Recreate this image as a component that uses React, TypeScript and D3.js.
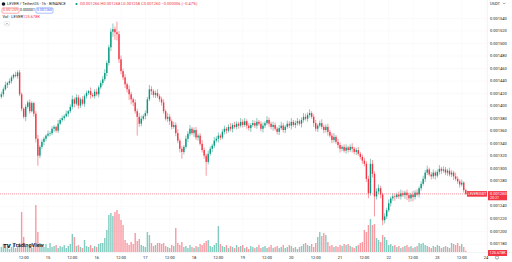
import React from "react";
import * as d3 from "d3";

const W = 512;
const H = 262;

// prices in units of 1e-6 USDT, 1h candles starting Nov 14 01:00 UTC
const OPEN0 = 1415;
const CLOSE = [
  1419,1427,1434,1437,1440,1446,1450,1448,1454,1419,
  1396,1383,1399,1406,1392,1405,1388,1348,1321,1335,
  1343,1348,1353,1356,1357,1364,1367,1361,1372,1378,
  1381,1384,1388,1392,1399,1411,1404,1414,1401,1411,
  1404,1416,1421,1424,1418,1416,1423,1419,1430,1437,
  1443,1453,1469,1494,1519,1523,1518,1515,1475,1456,
  1446,1435,1427,1419,1411,1406,1392,1383,1372,1380,
  1384,1389,1411,1427,1424,1418,1421,1416,1411,1406,
  1392,1380,1383,1376,1367,1370,1357,1345,1332,1327,
  1335,1348,1356,1364,1357,1362,1350,1353,1340,1330,
  1321,1311,1324,1332,1337,1345,1348,1353,1350,1359,
  1364,1361,1367,1364,1370,1367,1372,1369,1375,1370,
  1376,1369,1365,1370,1373,1369,1375,1372,1364,1369,
  1373,1378,1372,1367,1370,1364,1359,1365,1369,1362,
  1367,1372,1369,1375,1370,1373,1376,1372,1378,1383,
  1380,1386,1389,1383,1373,1364,1369,1373,1367,1362,
  1367,1359,1353,1346,1351,1343,1338,1332,1335,1329,
  1334,1330,1335,1332,1327,1330,1324,1319,1313,1308,
  1284,1261,1308,1292,1256,1264,1269,1259,1218,1224,
  1234,1245,1253,1256,1255,1259,1256,1261,1258,1262,
  1258,1253,1259,1255,1262,1259,1269,1276,1284,1294,
  1299,1291,1288,1294,1289,1295,1300,1297,1299,1294,
  1297,1291,1294,1288,1284,1280,1275,1278,1266,1260,
];
const UP_WICK = [
  4,3,5,2,4,3,2,5,3,4, 3,2,4,3,5,3,2,4,6,3, 4,3,2,5,3,4,3,2,6,3,
  4,3,5,2,4,6,3,5,4,3, 5,3,4,2,6,3,4,5,3,4, 5,6,4,4,5,9,4,17,5,6,
  4,5,3,6,4,3,5,4,6,5, 3,4,4,7,5,3,4,6,3,4, 5,3,6,4,3,5,4,6,3,4,
  3,5,4,6,3,4,5,3,4,6, 4,3,5,4,3,6,4,5,3,4, 5,3,4,6,3,5,4,3,6,4,
  5,3,4,3,5,4,6,3,4,5, 3,6,4,3,5,4,3,5,6,4, 3,5,4,6,3,4,5,3,4,6,
  5,4,6,3,4,5,3,4,6,3, 4,5,3,4,6,3,5,4,3,4, 5,3,4,6,3,4,5,3,4,5,
  4,5,8,6,4,5,6,4,3,5, 4,6,3,5,4,3,5,6,4,3, 5,4,3,6,4,5,3,4,5,4,
  6,3,4,5,3,4,6,3,5,4, 3,5,4,3,6,4,3,5,2,2,
];
const DN_WICK = [
  3,4,2,5,3,4,3,2,4,3, 4,3,7,3,4,2,5,6,16,4, 3,5,4,2,4,3,5,3,4,2,
  3,4,2,5,3,4,6,3,5,4, 3,5,4,3,6,2,4,3,5,3, 4,3,5,4,6,8,12,10,6,5,
  4,6,5,9,8,6,4,30,5,4, 3,5,4,3,6,4,5,3,4,5, 4,3,5,6,4,3,5,4,6,11,
  4,3,5,4,3,6,4,5,3,4, 5,22,4,3,5,4,3,6,4,3, 4,5,3,4,6,3,4,5,3,4,
  3,5,4,6,3,4,5,3,4,6, 4,3,5,4,6,3,4,5,3,4, 5,3,4,6,3,5,4,3,6,4,
  3,5,4,3,6,4,5,3,4,5, 4,6,3,5,4,3,5,6,4,3, 5,4,3,6,4,5,3,4,5,4,
  5,8,4,6,32,5,4,6,8,5, 4,3,5,4,6,3,4,5,3,6, 8,6,5,7,4,3,5,4,3,5,
  4,3,5,4,6,3,4,5,3,4, 5,3,4,6,3,4,5,3,4,2,
];
// volume in thousands
const VOLUME = [
  500,700,400,600,300,500,800,400,600,900,
  4000,1500,600,500,700,400,800,4700,2000,900,
  600,500,800,400,900,500,600,700,400,600,
  500,700,400,600,800,1800,1500,600,700,500,
  400,1200,600,500,700,400,600,500,800,900,
  900,1400,2200,3700,3900,3600,4000,4200,3800,3200,
  2700,1200,900,700,1000,800,1900,1100,1300,700,
  600,500,2000,1700,900,600,700,900,900,800,
  900,600,500,400,700,600,2400,900,700,1000,
  500,600,400,700,500,400,600,500,800,700,
  900,1100,1200,600,500,700,900,2600,800,600,
  500,700,400,600,500,400,700,500,600,700,
  400,500,300,600,500,400,500,700,400,500,
  600,400,500,700,400,500,600,400,500,700,
  400,500,700,600,400,500,300,500,600,800,
  900,700,600,800,500,900,1500,2000,1600,1900,
  1700,1000,600,700,500,600,500,700,600,800,
  700,800,600,500,400,600,700,900,1000,2200,
  2000,2700,3300,2700,2800,1400,1200,1000,1700,1500,
  1200,700,800,600,700,500,600,400,500,600,
  700,500,600,400,500,600,900,800,900,700,
  600,500,400,600,500,700,600,400,500,600,
  500,400,900,800,700,900,600,800,500,125.678,
];
const PRICE_TICKS = d3.range(0, 19).map((i) => 0.00154 - i * 0.00002);

const HEADER_SYMBOL = "LEVER / TetherUS · 1h · BINANCE";
const HEADER_OHLC = "O0.001266 H0.001268 L0.001258 C0.001260 −0.000006 (−0.47%)";
const SELL = "0.001259";
const SPREAD = "0.000001";
const BUY = "0.001260";
const VOL_LABEL = "Vol · LEVER";
const VOL_VALUE = "125.678K";
const COUNTDOWN = "20:21";

const GREEN = "#089981";
const RED = "#f23645";
const FONT = "Roboto, 'Noto Sans', sans-serif";

export default function App() {
  const hour = 3600 * 1000;
  const t0 = Date.UTC(2023, 10, 15);
  const x = d3
    .scaleUtc()
    .domain([new Date(t0), new Date(t0 + 24 * hour)])
    .range([48, 48 + 24 * 2.028]);
  const y = d3.scaleLinear().domain([0.00118, 0.00154]).range([244, 18.5]);
  const vy = d3.scaleLinear().domain([0, 5000]).range([252, 202]);

  const start = Date.UTC(2023, 10, 14, 1);
  const candles = CLOSE.map((c, i) => {
    const o = i === 0 ? OPEN0 : CLOSE[i - 1];
    const h = Math.max(o, c) + UP_WICK[i];
    const l = Math.min(o, c) - DN_WICK[i];
    return { t: new Date(start + i * hour), o: o * 1e-6, c: c * 1e-6, h: h * 1e-6, l: l * 1e-6, v: VOLUME[i] };
  });

  const timeTicks = d3.utcHour.every(12)!.range(new Date(Date.UTC(2023, 10, 14, 12)), new Date(Date.UTC(2023, 10, 24, 1)));
  const plotRight = 487;
  const last = candles[candles.length - 1];
  const yLast = y(last.c);
  const bw = 1.4;

  return (
    <svg width={W} height={H} style={{ position: "absolute", left: 0, top: 0, background: "#fff" }} fontFamily={FONT}>
      <rect x={0} y={0} width={W} height={H} fill="#fff" />
      {/* grid */}
      {PRICE_TICKS.map((p, i) => (
        <line key={"gh" + i} x1={0} x2={plotRight} y1={y(p)} y2={y(p)} stroke="#f4f5f8" strokeWidth={0.5} />
      ))}
      {timeTicks.map((t, i) => (
        <line key={"gv" + i} x1={x(t)} x2={x(t)} y1={0} y2={252} stroke="#f4f5f8" strokeWidth={0.5} />
      ))}
      {/* volume */}
      {candles.map((d, i) => (
        <rect
          key={"v" + i}
          x={x(d.t) - bw / 2}
          y={vy(d.v)}
          width={bw}
          height={252 - vy(d.v)}
          fill={d.c >= d.o ? "rgba(8,153,129,0.5)" : "rgba(242,54,69,0.5)"}
        />
      ))}
      {/* candles */}
      {candles.map((d, i) => {
        const col = d.c >= d.o ? GREEN : RED;
        const cx = x(d.t);
        const top = y(Math.max(d.o, d.c));
        const bot = y(Math.min(d.o, d.c));
        return (
          <g key={"c" + i}>
            <line x1={cx} x2={cx} y1={y(d.h)} y2={y(d.l)} stroke={col} strokeWidth={0.5} />
            <rect x={cx - bw / 2} y={top} width={bw} height={Math.max(0.6, bot - top)} fill={col} />
          </g>
        );
      })}
      {/* current price line */}
      <line x1={0} x2={plotRight} y1={yLast} y2={yLast} stroke={RED} strokeWidth={0.5} strokeDasharray="1,1" />
      {/* axes borders */}
      <line x1={plotRight + 0.5} x2={plotRight + 0.5} y1={0} y2={H} stroke="#e6e8ee" strokeWidth={0.5} />
      <line x1={0} x2={W} y1={252.5} y2={252.5} stroke="#e6e8ee" strokeWidth={0.5} />
      {/* price axis labels */}
      {PRICE_TICKS.map((p, i) => (
        <text key={"pl" + i} x={490} y={y(p)} fontSize={4} fill="#131722" dominantBaseline="middle">
          {p.toFixed(6)}
        </text>
      ))}
      <text x={490} y={3.5} fontSize={4} fill="#131722" dominantBaseline="middle">USDT</text>
      <path d="M503,2.8 L504.2,4 L505.4,2.8" fill="none" stroke="#131722" strokeWidth={0.4} />
      {/* time labels */}
      {timeTicks.map((t, i) => (
        <text key={"tl" + i} x={x(t)} y={257.5} fontSize={4} fill="#131722" textAnchor="middle" dominantBaseline="middle">
          {t.getUTCHours() === 0 ? String(t.getUTCDate()) : "12:00"}
        </text>
      ))}
      <circle cx={497} cy={257.5} r={1.6} fill="none" stroke="#131722" strokeWidth={0.4} />
      {/* price tags */}
      <rect x={467} y={yLast - 2.8} width={20} height={5.6} fill={RED} />
      <text x={477} y={yLast} fontSize={3.4} fill="#fff" textAnchor="middle" dominantBaseline="middle">LEVERUSDT</text>
      <rect x={488} y={yLast - 2.8} width={19} height={9.2} fill={RED} />
      <text x={490} y={yLast} fontSize={4} fill="#fff" dominantBaseline="middle">{last.c.toFixed(6)}</text>
      <text x={490} y={yLast + 4.2} fontSize={3.6} fill="#fff" dominantBaseline="middle">{COUNTDOWN}</text>
      <rect x={488} y={250} width={19} height={6} fill={RED} />
      <text x={489.5} y={253} fontSize={3.8} fill="#fff" dominantBaseline="middle">{VOL_VALUE}</text>
      {/* header */}
      <circle cx={3.5} cy={4} r={1.8} fill="#131722" />
      <text x={7} y={4} fontSize={4} fill="#131722" dominantBaseline="middle">{HEADER_SYMBOL}</text>
      <circle cx={76.5} cy={4} r={1.1} fill={GREEN} />
      <text x={80} y={4} fontSize={4} fill={RED} dominantBaseline="middle">{HEADER_OHLC}</text>
      <rect x={2} y={7.8} width={17} height={5.4} rx={1} fill="#fff" stroke={RED} strokeWidth={0.4} />
      <text x={10.5} y={10.5} fontSize={3.6} fill={RED} textAnchor="middle" dominantBaseline="middle">{SELL}</text>
      <text x={27.5} y={10.5} fontSize={3.6} fill="#131722" textAnchor="middle" dominantBaseline="middle">{SPREAD}</text>
      <rect x={36} y={7.8} width={17} height={5.4} rx={1} fill="#fff" stroke="#2962ff" strokeWidth={0.4} />
      <text x={44.5} y={10.5} fontSize={3.6} fill="#2962ff" textAnchor="middle" dominantBaseline="middle">{BUY}</text>
      <text x={2.5} y={17} fontSize={4} fill="#131722" dominantBaseline="middle">{VOL_LABEL}</text>
      <text x={23} y={17} fontSize={4} fill={RED} dominantBaseline="middle">{VOL_VALUE}</text>
      <rect x={4.5} y={21.5} width={5} height={4.5} rx={0.8} fill="#fff" stroke="#d1d4dc" strokeWidth={0.4} />
      <path d="M5.8,24.5 L7,23.3 L8.2,24.5" fill="none" stroke="#131722" strokeWidth={0.4} />
      {/* watermark */}
      <text x={3} y={246} fontSize={6} fontWeight={900} fill="#131722" dominantBaseline="middle">TV</text>
      <text x={12.5} y={246} fontSize={5.6} fontWeight={600} fill="#131722" dominantBaseline="middle">TradingView</text>
    </svg>
  );
}
